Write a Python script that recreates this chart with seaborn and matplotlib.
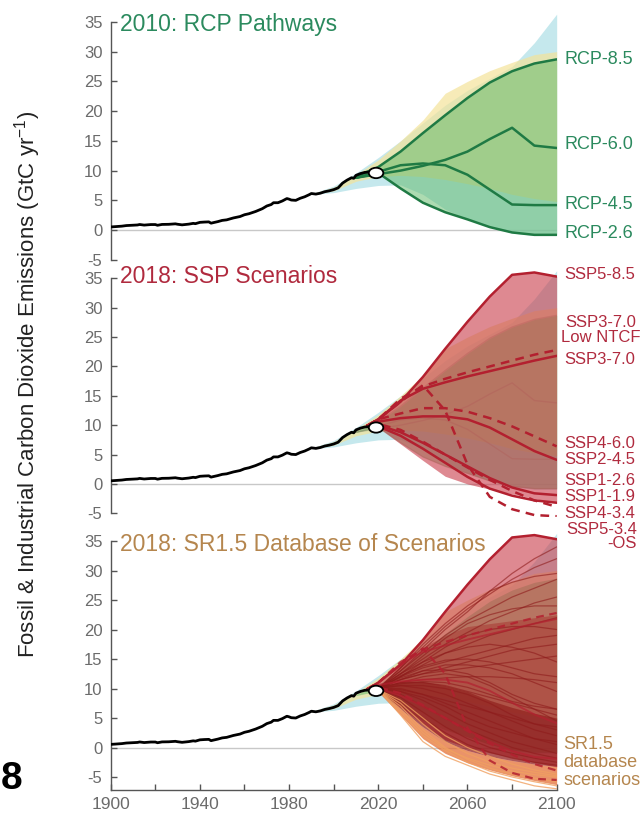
import numpy as np
import pandas as pd
import matplotlib
matplotlib.use("Agg")
import matplotlib.pyplot as plt
from matplotlib.patches import Ellipse
import seaborn as sns

# ---------------- data ----------------
hist_years = [1900, 1902, 1905, 1907, 1910, 1912, 1913, 1915, 1918, 1920, 1921, 1923, 1926, 1929,
              1930, 1932, 1935, 1937, 1938, 1940, 1942, 1944, 1945, 1946, 1948, 1950, 1952, 1955,
              1958, 1960, 1962, 1965, 1968, 1970, 1972, 1973, 1975, 1977, 1979, 1980, 1981, 1983,
              1985, 1987, 1989, 1990, 1992, 1994, 1996, 1998, 2000, 2002, 2004, 2006, 2008, 2009,
              2010, 2012, 2014, 2016, 2018]
hist_vals = [0.53, 0.58, 0.66, 0.76, 0.82, 0.86, 0.94, 0.84, 0.93, 0.93, 0.81, 0.95, 0.97, 1.05,
             0.98, 0.88, 1.00, 1.13, 1.08, 1.30, 1.35, 1.38, 1.16, 1.25, 1.42, 1.63, 1.72, 2.04,
             2.28, 2.58, 2.75, 3.13, 3.60, 4.05, 4.30, 4.60, 4.60, 4.90, 5.30, 5.20, 5.05, 5.00,
             5.35, 5.60, 5.95, 6.15, 6.05, 6.20, 6.45, 6.60, 6.80, 7.10, 7.90, 8.40, 8.80, 8.70,
             9.20, 9.50, 9.70, 9.75, 9.90]
now_point = (2019, 9.6)

bg_years = [1990, 2000, 2010, 2020, 2030, 2040, 2050, 2060, 2070, 2080, 2090, 2100]
blue_hi = [6.1, 7.4, 9.6, 12.2, 15.0, 18.0, 21.0, 23.5, 25.5, 27.5, 31.5, 36.3]
blue_lo = [6.0, 6.3, 7.0, 7.5, 7.6, 6.0, 3.5, 1.8, 0.6, -0.5, -0.9, -0.9]
yellow_hi = [6.1, 7.2, 9.3, 11.8, 15.0, 18.5, 23.0, 25.0, 26.8, 28.2, 29.5, 30.0]
yellow_lo = [6.0, 6.6, 8.2, 9.0, 9.2, 9.0, 8.5, 7.8, 7.0, 6.0, 5.3, 4.8]

rcp_years = [2010, 2020, 2030, 2040, 2050, 2060, 2070, 2080, 2090, 2100]
rcp85 = [9.0, 10.6, 13.2, 16.3, 19.3, 22.2, 24.8, 26.7, 28.0, 28.7]
rcp60 = [8.8, 9.4, 10.0, 10.8, 11.8, 13.2, 15.3, 17.2, 14.2, 13.8]
rcp45 = [8.8, 9.8, 10.9, 11.2, 10.9, 9.3, 6.8, 4.3, 4.2, 4.2]
rcp26 = [8.8, 9.6, 7.0, 4.6, 3.0, 1.8, 0.5, -0.4, -0.8, -0.8]
rcp_names = ["RCP-8.5", "RCP-6.0", "RCP-4.5", "RCP-2.6"]
rcp_label_y = [28.7, 14.4, 4.3, -0.6]

ssp_years = [2015, 2020, 2030, 2040, 2050, 2060, 2070, 2080, 2090, 2100]
ssp585 = [9.9, 11.0, 14.0, 18.2, 23.0, 27.6, 31.9, 35.6, 36.0, 35.3]
ssp370 = [9.9, 11.0, 14.2, 16.2, 17.3, 18.3, 19.2, 20.1, 21.0, 21.8]
ssp370low = [9.9, 11.0, 14.5, 16.6, 17.9, 19.0, 20.0, 21.0, 22.0, 22.8]
ssp460 = [9.9, 11.0, 12.0, 12.9, 12.9, 12.3, 11.2, 9.8, 8.1, 6.4]
ssp245 = [9.9, 10.6, 11.2, 11.5, 11.5, 11.0, 9.6, 7.6, 5.6, 4.1]
ssp126 = [9.9, 10.0, 8.8, 7.0, 5.0, 3.0, 1.0, -0.6, -1.6, -1.9]
ssp119 = [9.9, 9.8, 8.2, 6.0, 3.6, 1.2, -0.8, -2.0, -2.8, -3.2]
ssp434 = [9.9, 10.2, 9.2, 7.2, 5.0, 2.8, 0.7, -1.2, -2.8, -3.9]
ssp534os = [9.9, 11.0, 14.0, 16.8, 12.5, 3.3, -2.2, -4.3, -5.3, -5.5]
ssp_low_env = [9.9, 9.6, 6.8, 4.0, 1.3, 0.0, -0.9, -1.7, -2.5, -3.3]
ssp_labels = ["SSP5-8.5", "SSP3-7.0\nLow NTCF", "SSP3-7.0", "SSP4-6.0", "SSP2-4.5",
              "SSP1-2.6", "SSP1-1.9", "SSP4-3.4", "SSP5-3.4\n-OS"]
ssp_label_y = [35.6, 26.2, 21.1, 6.9, 4.1, 0.5, -2.2, -5.0, -8.9]

sr_years = [2020, 2030, 2040, 2050, 2060, 2070, 2080, 2090, 2100]
sr_red_lines = [
    [10.0, 13.5, 17.0, 20.5, 23.5, 26.0, 28.5, 30.5, 32.0],
    [10.0, 13.0, 16.0, 19.0, 21.5, 23.5, 25.5, 27.0, 28.5],
    [10.0, 12.5, 15.0, 17.5, 19.5, 21.5, 23.0, 24.5, 25.5],
    [10.0, 12.0, 14.0, 16.0, 17.5, 19.0, 20.0, 21.0, 22.0],
    [10.0, 12.0, 13.5, 14.5, 15.5, 16.5, 17.5, 18.5, 19.0],
    [10.0, 11.5, 12.5, 13.0, 13.5, 14.0, 14.5, 15.0, 15.5],
    [10.0, 11.0, 11.5, 11.8, 12.0, 12.0, 11.8, 11.5, 11.0],
    [10.0, 11.0, 11.0, 10.5, 9.5, 8.5, 7.5, 6.5, 5.5],
    [10.0, 10.5, 10.0, 9.0, 7.5, 6.0, 4.5, 3.0, 2.0],
    [10.0, 10.0, 9.0, 7.5, 6.0, 4.5, 3.0, 1.5, 0.5],
    [10.0, 9.5, 8.0, 6.0, 4.0, 2.5, 1.0, 0.0, -1.0],
    [10.0, 9.0, 7.0, 5.0, 3.0, 1.5, 0.0, -1.0, -1.8],
    [10.0, 8.5, 6.0, 3.5, 1.5, 0.0, -1.0, -1.8, -2.5],
    [10.0, 8.0, 5.0, 2.5, 0.5, -0.8, -1.8, -2.5, -3.0],
    [10.0, 11.5, 13.0, 14.0, 14.0, 13.5, 12.5, 11.0, 9.5],
    [10.0, 12.5, 14.5, 16.0, 17.0, 17.5, 17.0, 16.0, 14.5],
    [10.0, 13.0, 16.5, 20.0, 23.0, 26.5, 29.5, 32.0, 34.0],
    [10.0, 11.0, 12.0, 12.5, 12.0, 10.5, 8.5, 6.5, 4.5],
    [10.0, 10.5, 10.5, 10.0, 9.0, 7.5, 5.5, 4.0, 3.0],
    [10.0, 9.8, 9.0, 8.0, 7.0, 6.0, 5.0, 4.0, 3.5],
    [10.0, 12.0, 14.5, 17.0, 19.0, 20.0, 20.5, 20.5, 20.0],
    [10.0, 11.5, 12.5, 13.5, 14.5, 15.5, 16.5, 17.0, 17.5],
    [10.0, 13.5, 17.5, 21.0, 24.0, 26.5, 28.0, 29.0, 29.5],
    [10.0, 12.5, 15.5, 18.5, 21.0, 22.5, 23.5, 24.0, 24.0],
    [10.0, 11.8, 13.0, 13.2, 12.5, 11.0, 9.0, 7.5, 6.5],
    [10.0, 10.8, 11.2, 11.0, 10.2, 9.0, 7.8, 7.0, 6.5],
    [10.0, 12.2, 13.8, 14.8, 15.0, 14.5, 13.5, 12.5, 12.0],
    [10.0, 9.5, 8.5, 7.0, 5.0, 3.5, 2.5, 1.5, 1.0],
]
sr_orange_lines = [
    [9.8, 7.5, 4.0, 1.0, -1.0, -2.5, -3.5, -4.2, -4.8],
    [9.8, 7.0, 3.0, 0.0, -2.0, -3.5, -4.5, -5.2, -5.8],
    [9.8, 6.0, 2.0, -0.5, -2.5, -4.0, -5.0, -5.8, -6.5],
    [9.8, 8.0, 5.0, 2.0, 0.0, -1.5, -2.8, -3.8, -4.5],
    [9.8, 5.5, 1.0, -1.5, -3.0, -4.5, -5.5, -6.5, -7.0],
    [9.8, 6.5, 2.5, -0.2, -1.8, -3.0, -4.0, -4.6, -5.0],
]
sr_core_hi = [10.0, 11.0, 11.2, 10.5, 9.5, 8.0, 6.8, 5.8, 5.0]
sr_core_lo = [9.6, 6.5, 3.5, 1.0, -0.5, -1.5, -2.2, -2.8, -3.2]
sr_mid_hi = [10.0, 14.0, 17.0, 19.0, 20.5, 21.0, 21.5, 22.0, 22.5]
sr_min = [9.4, 5.5, 1.5, -1.0, -2.6, -3.8, -4.8, -5.6, -6.3]

yticks = [-5, 0, 5, 10, 15, 20, 25, 30, 35]
xticks_major = [1900, 1940, 1980, 2020, 2060, 2100]
xticks_minor = [1920, 1960, 2000, 2040, 2080]

titles = ["2010: RCP Pathways", "2018: SSP Scenarios", "2018: SR1.5 Database of Scenarios"]
ylabel = "Fossil & Industrial Carbon Dioxide Emissions (GtC yr$^{\\mathregular{-1}}$)"

# ---------------- style ----------------
sns.set_style("ticks")
plt.rcParams["font.family"] = ["Liberation Sans", "DejaVu Sans"]
plt.rcParams["mathtext.fontset"] = "custom"
plt.rcParams["mathtext.rm"] = "Liberation Sans"

GREEN_TXT = "#2b8a5e"
GREEN_LINE = "#1f7a44"
GREEN_FILL = "#5cb865"
BLUE_FILL = "#a6dce4"
YELLOW_FILL = "#f4e39a"
RED_TXT = "#b02a3e"
RED_LINE = "#b3202f"
RED_FILL = "#c83a48"
TAN_TXT = "#b5864e"
TICK_TXT = "#6b6b6b"
SPINE = "#555555"

fig = plt.figure(figsize=(6.44, 8.13), dpi=100)
ax_top = fig.add_axes([0.1719, 0.6804, 0.6925, 0.3110])
ax_mid = fig.add_axes([0.1719, 0.3643, 0.6925, 0.3114])
ax_bot = fig.add_axes([0.1719, 0.0283, 0.6925, 0.3244])
axes = [ax_top, ax_mid, ax_bot]
ylims = [(-5, 37.5), (-5.6, 37.5), (-7.2, 37.5)]


def sline(ax, x, y, **kw):
    sns.lineplot(x=x, y=y, ax=ax, estimator=None, sort=False, legend=False, **kw)


def background(ax, green_alpha):
    ax.fill_between(bg_years, blue_lo, blue_hi, color=BLUE_FILL, alpha=0.65, lw=0, zorder=1)
    ax.fill_between(bg_years, yellow_lo, yellow_hi, color=YELLOW_FILL, alpha=0.7, lw=0, zorder=1.1)
    ax.fill_between(rcp_years, rcp26, rcp85, color=GREEN_FILL, alpha=green_alpha, lw=0, zorder=1.2)


def history(ax):
    sline(ax, hist_years, hist_vals, color="black", linewidth=2.0, zorder=20)
    e = Ellipse(now_point, width=6.5, height=1.75, facecolor="white", edgecolor="black",
                linewidth=1.3, zorder=21)
    ax.add_patch(e)


for ax, yl in zip(axes, ylims):
    ax.set_xlim(1900, 2100)
    ax.set_ylim(*yl)
    ax.axhline(0, color="#c8c8c8", lw=1.0, zorder=0.5)
    for s in ["top", "right"]:
        ax.spines[s].set_visible(False)
    ax.spines["left"].set_color(SPINE)
    ax.spines["left"].set_linewidth(1.0)
    ax.set_yticks(yticks)
    ax.set_yticklabels([str(t) for t in yticks])
    ax.tick_params(axis="y", direction="in", length=4, width=1, color=SPINE,
                   labelsize=12, labelcolor=TICK_TXT, pad=6)
    ax.set_xlabel("")
    ax.set_ylabel("")
    ax.patch.set_alpha(0)

for ax in (ax_top, ax_mid):
    ax.spines["bottom"].set_visible(False)
    ax.spines["left"].set_bounds(-5, 35)
    ax.set_xticks([])

ax_bot.spines["left"].set_bounds(-7.2, 35)
ax_bot.spines["bottom"].set_color(SPINE)
ax_bot.spines["bottom"].set_linewidth(1.0)
ax_bot.set_xticks(xticks_major)
ax_bot.set_xticklabels([str(t) for t in xticks_major])
ax_bot.set_xticks(xticks_minor, minor=True)
ax_bot.tick_params(axis="x", which="both", direction="in", length=4, width=1, color=SPINE,
                   labelsize=12.5, labelcolor=TICK_TXT, pad=5)

# ---------------- top panel: RCP ----------------
background(ax_top, 0.5)
for vals in (rcp85, rcp60, rcp45, rcp26):
    sline(ax_top, rcp_years, vals, color=GREEN_LINE, linewidth=1.8, zorder=5)
history(ax_top)
for name, yv in zip(rcp_names, rcp_label_y):
    ax_top.text(2103.3, yv, name, color=GREEN_TXT, fontsize=13, va="center", ha="left",
                clip_on=False)
ax_top.text(1904, 33.5, titles[0], color=GREEN_TXT, fontsize=16.5, va="baseline", ha="left")


# ---------------- middle panel: SSP ----------------
background(ax_mid, 0.5)
for vals in (rcp85, rcp60, rcp45, rcp26):
    sline(ax_mid, rcp_years, vals, color="#8a8a6a", linewidth=1.0, alpha=0.35, zorder=1.5)
ax_mid.fill_between(ssp_years, ssp_low_env, ssp585, color=RED_FILL, alpha=0.6, lw=0, zorder=2)
for vals in (ssp585, ssp370, ssp245, ssp126, ssp119):
    sline(ax_mid, ssp_years, vals, color=RED_LINE, linewidth=1.8, zorder=8)
for vals in (ssp370low, ssp460, ssp434, ssp534os):
    sline(ax_mid, ssp_years, vals, color=RED_LINE, linewidth=1.8,
          linestyle=(0, (3.5, 2.5)), zorder=8)
history(ax_mid)
for name, yv in zip(ssp_labels, ssp_label_y):
    if "NTCF" in name:
        ax_mid.text(2101.9, yv, name, color=RED_TXT, fontsize=12, va="center", ha="left",
                    multialignment="center", linespacing=0.95, clip_on=False)
    elif "OS" in name:
        ax_mid.text(2104.2, yv, name, color=RED_TXT, fontsize=12, va="center", ha="left",
                    multialignment="right", linespacing=0.95, clip_on=False)
    else:
        ax_mid.text(2103.3, yv, name, color=RED_TXT, fontsize=12, va="center", ha="left",
                    clip_on=False)
ax_mid.text(1904, 34.2, titles[1], color=RED_TXT, fontsize=16.5, va="baseline", ha="left")

# ---------------- bottom panel: SR1.5 ----------------
background(ax_bot, 0.5)
ax_bot.fill_between(ssp_years, ssp_low_env, ssp585, color=RED_FILL, alpha=0.6, lw=0, zorder=2)
ax_bot.fill_between(sr_years, sr_min, sr_core_lo, color="#e2662a", alpha=0.7, lw=0, zorder=2.5)
ax_bot.fill_between(sr_years, sr_core_lo, sr_mid_hi, color="#a32020", alpha=0.4, lw=0, zorder=2.6)
ax_bot.fill_between(sr_years, sr_core_lo, sr_core_hi, color="#850c0c", alpha=0.5, lw=0, zorder=2.7)
for vals in sr_red_lines:
    sline(ax_bot, sr_years, vals, color="#8e1b1b", linewidth=0.9, alpha=0.6, zorder=4)
for vals in sr_orange_lines:
    sline(ax_bot, sr_years, vals, color="#f0a060", linewidth=0.9, alpha=0.8, zorder=4)
sline(ax_bot, ssp_years, ssp585, color=RED_LINE, linewidth=1.8, zorder=8)
for vals in (ssp370low, ssp434, ssp534os):
    sline(ax_bot, ssp_years, vals, color=RED_LINE, linewidth=1.6, alpha=0.85,
          linestyle=(0, (3.5, 2.5)), zorder=7)
for vals in (ssp370, ssp245, ssp126):
    sline(ax_bot, ssp_years, vals, color=RED_LINE, linewidth=1.4, alpha=0.7, zorder=7)
history(ax_bot)
ax_bot.text(2103.0, -2.6, "SR1.5\ndatabase\nscenarios", color=TAN_TXT, fontsize=13,
            va="center", ha="left", linespacing=1.08, clip_on=False)
ax_bot.text(1904, 33.3, titles[2], color=TAN_TXT, fontsize=16.5, va="baseline", ha="left")

# ---------------- figure texts ----------------
fig.text(0.043, 0.527, ylabel, rotation=90, va="center", ha="center", fontsize=16, color="#222222")
fig.text(0.001, 1 - 779 / 813, "8", ha="left", va="center", fontsize=28, fontweight="bold",
         color="black")

fig.savefig("out.png", dpi=100)
